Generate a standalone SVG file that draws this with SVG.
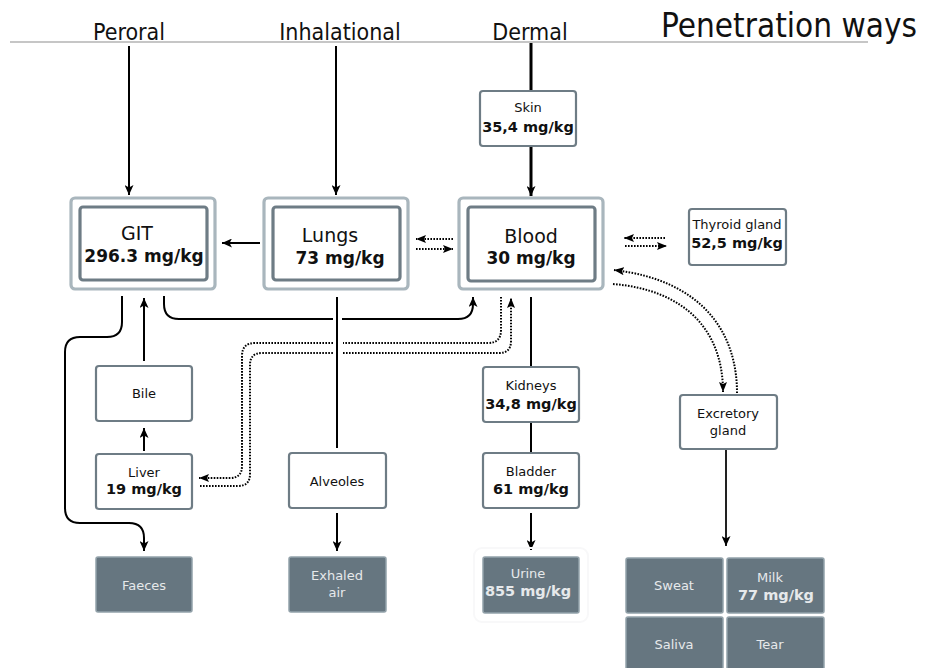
<svg xmlns="http://www.w3.org/2000/svg" width="927" height="668" viewBox="0 0 927 668">
<defs>
<marker id="ah" markerUnits="userSpaceOnUse" markerWidth="11" markerHeight="9" refX="10" refY="4.5" orient="auto"><path d="M0,0 L10,4.5 L0,9 L2.5,4.5 z" fill="#000"/></marker>
<marker id="ahd" markerUnits="userSpaceOnUse" markerWidth="11" markerHeight="9" refX="10" refY="4.5" orient="auto"><path d="M0,0.5 L10,4.5 L0,8.5 L2,4.5 z" fill="#000"/></marker>
<style>
.hd{font-family:"DejaVu Sans Condensed","DejaVu Sans",sans-serif;font-stretch:condensed;font-size:23px;fill:#111;text-anchor:middle}
.t{font-family:"DejaVu Sans",sans-serif;fill:#111;text-anchor:middle}
.n{font-size:13px}
.b{font-size:14.5px;font-weight:bold}
.bn{font-size:19px}
.bb{font-size:17px;font-weight:bold}
.lt{fill:#e6e9eb}
.box{fill:#fff;stroke:#6e7c85;stroke-width:2.2}
.out{fill:#fff;stroke:#a9b6bd;stroke-width:3.2}
.inn{fill:#fff;stroke:#6e7c85;stroke-width:3.2}
.dk{fill:#667680;stroke:#93a2aa;stroke-width:1.5}
.s{fill:none;stroke:#000;stroke-width:2}
.th{stroke-width:3}
.d{fill:none;stroke:#000;stroke-width:2;stroke-dasharray:1.6 1.4}
</style>
</defs>
<rect width="927" height="668" fill="#fff"/>
<line x1="10" y1="42" x2="868" y2="42" stroke="#b3b3b3" stroke-width="1.5"/>
<g id="headers">
<text class="hd" x="129" y="40">Peroral</text>
<text class="hd" x="340" y="40">Inhalational</text>
<text class="hd" x="530" y="40">Dermal</text>
<text class="hd" x="789" y="37" style="font-size:33px">Penetration ways</text>
</g>
<g id="connectors">
<line class="s" x1="129" y1="46" x2="129" y2="195" marker-end="url(#ah)"/>
<line class="s" x1="336" y1="46" x2="336" y2="195" marker-end="url(#ah)"/>
<line class="s th" x1="531" y1="43" x2="531" y2="91"/>
<line class="s th" x1="531" y1="146" x2="531" y2="196" marker-end="url(#ah)"/>
<line class="s" x1="260" y1="243" x2="222" y2="243" marker-end="url(#ah)"/>
<line class="d" x1="453" y1="239" x2="416" y2="239" marker-end="url(#ahd)"/>
<line class="d" x1="416" y1="249" x2="453" y2="249" marker-end="url(#ahd)"/>
<line class="d" x1="665" y1="238" x2="624" y2="238" marker-end="url(#ahd)"/>
<line class="d" x1="625" y1="246" x2="667" y2="246" marker-end="url(#ahd)"/>
<path class="d" d="M737,393 C737,330 700,280 614,270" marker-end="url(#ahd)"/>
<path class="d" d="M613,284 C685,290 723,330 723,392" marker-end="url(#ahd)"/>
<path class="s" d="M122,296 V322 Q122,337 107,337 H80 Q65,337 65,352 V508 Q65,523 80,523 H129 Q144,523 144,538 V551" marker-end="url(#ah)"/>
<line class="s" x1="144" y1="361" x2="144" y2="298" marker-end="url(#ah)"/>
<line class="s" x1="144" y1="451" x2="144" y2="428" marker-end="url(#ah)"/>
<path class="s" d="M164,296 V304 Q164,319 179,319 H333 M342,319 H458 Q473,319 473,304 V297" marker-end="url(#ah)"/>
<line class="s" x1="337" y1="297" x2="337" y2="448"/>
<path class="d" d="M501,297 V330 Q501,343 488,343 H343 M333,343 H255 Q242,343 242,356 V466 Q242,478 230,478 H199" marker-end="url(#ahd)"/>
<path class="d" d="M200,486 H238 Q250,486 250,474 V365 Q250,353 262,353 H333 M343,353 H499 Q511,353 511,341 V298" marker-end="url(#ahd)"/>
<line class="s" x1="531" y1="297" x2="531" y2="367"/>
<line class="s" x1="531" y1="422" x2="531" y2="452"/>
<line class="s" x1="531" y1="513" x2="531" y2="550" marker-end="url(#ah)"/>
<line class="s" x1="337" y1="513" x2="337" y2="551" marker-end="url(#ah)"/>
<line class="s" x1="726" y1="449" x2="726" y2="546" style="stroke:#222" marker-end="url(#ah)"/>
</g>
<g id="skin"><rect class="box" x="480" y="91" width="96" height="55" rx="3"/><text class="t n" x="528" y="112">Skin</text><text class="t b" x="528" y="132">35,4 mg/kg</text></g>
<g id="git"><rect class="out" x="71" y="198" width="144" height="91" rx="4"/><rect class="inn" x="80" y="207" width="127" height="73" rx="3"/><text class="t bn" x="137" y="240">GIT</text><text class="t bb" x="144" y="262">296.3 mg/kg</text></g>
<g id="lungs"><rect class="out" x="264" y="198" width="144" height="91" rx="4"/><rect class="inn" x="273" y="207" width="127" height="73" rx="3"/><text class="t bn" x="330" y="242">Lungs</text><text class="t bb" x="340" y="264">73 mg/kg</text></g>
<g id="blood"><rect class="out" x="459" y="198" width="144" height="91" rx="4"/><rect class="inn" x="468" y="207" width="127" height="74" rx="3"/><text class="t bn" x="531" y="243">Blood</text><text class="t bb" x="531" y="264">30 mg/kg</text></g>
<g id="thyroid"><rect class="box" x="689" y="209" width="97" height="56" rx="3"/><text class="t n" x="737" y="229">Thyroid gland</text><text class="t b" x="737" y="248">52,5 mg/kg</text></g>
<g id="bile"><rect class="box" x="96" y="366" width="96" height="55" rx="3"/><text class="t n" x="144" y="398">Bile</text></g>
<g id="liver"><rect class="box" x="96" y="454" width="96" height="55" rx="3"/><text class="t n" x="144" y="477">Liver</text><text class="t b" x="144" y="494">19 mg/kg</text></g>
<g id="alveoles"><rect class="box" x="289" y="453" width="97" height="55" rx="3"/><text class="t n" x="337" y="486">Alveoles</text></g>
<g id="kidneys"><rect class="box" x="483" y="367" width="96" height="55" rx="3"/><text class="t n" x="531" y="390">Kidneys</text><text class="t b" x="531" y="409">34,8 mg/kg</text></g>
<g id="bladder"><rect class="box" x="483" y="453" width="96" height="55" rx="3"/><text class="t n" x="531" y="476">Bladder</text><text class="t b" x="531" y="494">61 mg/kg</text></g>
<g id="excretory"><rect class="box" x="680" y="395" width="97" height="54" rx="3"/><text class="t n" x="728" y="418">Excretory</text><text class="t n" x="728" y="435">gland</text></g>
<g id="faeces"><rect class="dk" x="96" y="557" width="96" height="55" rx="2"/><text class="t n lt" x="144" y="590">Faeces</text></g>
<g id="exhaled"><rect class="dk" x="289" y="557" width="97" height="55" rx="2"/><text class="t n lt" x="337" y="580">Exhaled</text><text class="t n lt" x="337" y="597">air</text></g>
<g id="urine"><rect x="474" y="548" width="114" height="74" rx="8" fill="none" stroke="#f8f8f9" stroke-width="2"/><rect class="dk" x="483" y="557" width="96" height="56" rx="2"/><text class="t n lt" x="528" y="578">Urine</text><text class="t b lt" x="528" y="596">855 mg/kg</text></g>
<g id="sweat"><rect class="dk" x="626" y="558" width="97" height="55" rx="2"/><text class="t n lt" x="674" y="590">Sweat</text></g>
<g id="milk"><rect class="dk" x="727" y="558" width="97" height="55" rx="2"/><text class="t n lt" x="770" y="582">Milk</text><text class="t b lt" x="776" y="600">77 mg/kg</text></g>
<g id="saliva"><rect class="dk" x="626" y="617" width="97" height="55" rx="2"/><text class="t n lt" x="674" y="649">Saliva</text></g>
<g id="tear"><rect class="dk" x="727" y="617" width="97" height="55" rx="2"/><text class="t n lt" x="770" y="649">Tear</text></g>
</svg>
